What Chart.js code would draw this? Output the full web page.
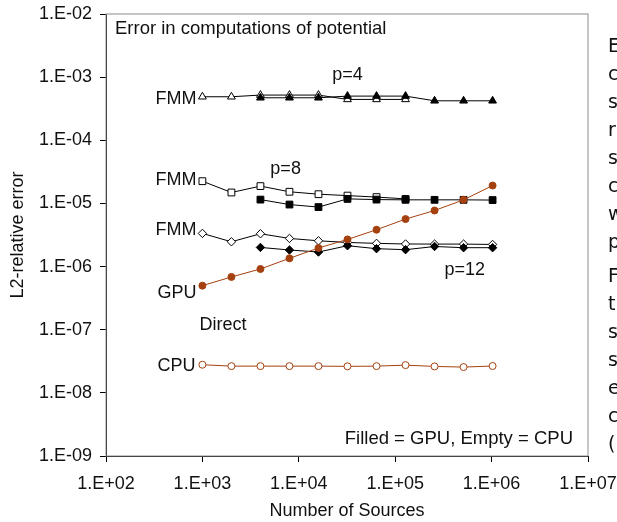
<!DOCTYPE html>
<html>
<head>
<meta charset="utf-8">
<script src="https://cdn.jsdelivr.net/npm/chart.js@4.4.0/dist/chart.umd.min.js"></script>
<style>
  html, body { margin: 0; padding: 0; background: #fff; overflow: hidden; }
  #wrap { position: relative; width: 617px; height: 522px; }
  #side {
    position: absolute; left: 608px; top: 31px; width: 60px;
    font-family: "DejaVu Sans", sans-serif; font-size: 19px; line-height: 28px; color: #111;
    white-space: nowrap;
  }
  #side p { margin: 0 0 6px 0; }
</style>
</head>
<body>
<div id="wrap">
  <canvas id="chart" width="617" height="522"></canvas>
  <div id="side">
    <p>E<br>c<br>s<br>r<br>s<br>c<br>w<br>p</p>
    <p>F<br>t<br>s<br>s<br>e<br>c<br>(</p>
  </div>
</div>
<script>
/*
 * Values
 */
const sources = [1e3, 2e3, 4e3, 8e3, 1.6e4, 3.2e4, 6.4e4, 1.28e5, 2.56e5, 5.12e5, 1.024e6]

const directGpu = [4.99e-7, 6.85e-7, 9.16e-7, 1.35e-6, 1.97e-6, 2.69e-6, 3.83e-6, 5.65e-6, 7.73e-6, 1.14e-5, 1.92e-5]
const directCpu = [2.79e-8, 2.65e-8, 2.65e-8, 2.65e-8, 2.65e-8, 2.63e-8, 2.65e-8, 2.75e-8, 2.62e-8, 2.56e-8, 2.66e-8]

// FMM, CPU runs start at 1e3, GPU runs start at 4e3
const fmmP4Cpu = [4.89e-4, 4.89e-4, 5.20e-4, 5.20e-4, 5.20e-4, 4.44e-4, 4.44e-4, 4.44e-4]
const fmmP4Gpu = [4.71e-4, 4.71e-4, 4.71e-4, 5.01e-4, 5.01e-4, 5.01e-4, 4.22e-4, 4.22e-4, 4.22e-4]
const fmmP8Cpu = [2.25e-5, 1.49e-5, 1.88e-5, 1.53e-5, 1.40e-5, 1.33e-5, 1.26e-5, 1.18e-5]
const fmmP8Gpu = [1.15e-5, 9.6e-6, 8.75e-6, 1.18e-5, 1.15e-5, 1.14e-5, 1.14e-5, 1.14e-5, 1.13e-5]
const fmmP12Cpu = [3.35e-6, 2.47e-6, 3.31e-6, 2.79e-6, 2.56e-6, 2.41e-6, 2.33e-6, 2.28e-6, 2.27e-6, 2.27e-6, 2.24e-6]
const fmmP12Gpu = [2.01e-6, 1.83e-6, 1.70e-6, 2.14e-6, 1.92e-6, 1.85e-6, 2.08e-6, 1.99e-6, 1.99e-6]

const xTicks = [1e2, 1e3, 1e4, 1e5, 1e6, 1e7]
const xTickLabels = ['1.E+02', '1.E+03', '1.E+04', '1.E+05', '1.E+06', '1.E+07']
const yTicks = [1e-9, 1e-8, 1e-7, 1e-6, 1e-5, 1e-4, 1e-3, 1e-2]
const yTickLabels = ['1.E-09', '1.E-08', '1.E-07', '1.E-06', '1.E-05', '1.E-04', '1.E-03', '1.E-02']

const ORANGE = '#a5410f'
const FONT = '"Liberation Sans", Arial, sans-serif'

const pts = (vals, start) => vals.map((v, i) => ({x: sources[start + i], y: v}))

const series = (data, style, color, filled, radius) => ({
	data: data,
	showLine: true,
	borderColor: color,
	borderWidth: 1,
	pointStyle: style,
	pointRadius: radius,
	pointBorderColor: color,
	pointBackgroundColor: filled ? color : '#fff',
	pointBorderWidth: 1
})

// text labels inside the plot, anchored in data space
const notes = [
	{text: 'FMM', x: 1e3, y: fmmP4Cpu[0], align: 'right', dx: -6, dy: 2},
	{text: 'FMM', x: 1e3, y: fmmP8Cpu[0], align: 'right', dx: -6, dy: -1},
	{text: 'FMM', x: 1e3, y: fmmP12Cpu[0], align: 'right', dx: -6, dy: -3},
	{text: 'GPU', x: 1e3, y: directGpu[0], align: 'right', dx: -6, dy: 7},
	{text: 'CPU', x: 1e3, y: directCpu[0], align: 'right', dx: -7, dy: 1},
	{text: 'Direct', x: 1e3, y: 1.2e-7, align: 'left', dx: -3, dy: 0},
	{text: 'p=4', x: 3.2e4, y: 1e-3, align: 'center', dx: 0, dy: -2},
	{text: 'p=8', x: 7.3e3, y: 3.4e-5, align: 'center', dx: 0, dy: -1},
	{text: 'p=12', x: 5.26e5, y: 8.9e-7, align: 'center', dx: 0, dy: 0}
]

const notesPlugin = {
	id: 'notes',
	beforeDatasetsDraw(chart) {
		const {ctx, chartArea: a} = chart
		ctx.save()
		ctx.strokeStyle = '#8c8c8c'
		ctx.lineWidth = 1
		ctx.strokeRect(a.left, a.top, a.right - a.left, a.bottom - a.top)
		ctx.restore()
	},
	afterDatasetsDraw(chart) {
		const {ctx, chartArea: a, scales} = chart
		ctx.save()
		ctx.fillStyle = '#111'
		ctx.font = '18px ' + FONT
		ctx.textBaseline = 'middle'
		notes.forEach(n => {
			ctx.textAlign = n.align
			ctx.fillText(n.text, scales.x.getPixelForValue(n.x) + n.dx, scales.y.getPixelForValue(n.y) + n.dy)
		})
		ctx.font = '18.5px ' + FONT
		ctx.textAlign = 'left'
		ctx.fillText('Error in computations of potential', a.left + 9, a.top + 15)
		ctx.textAlign = 'right'
		ctx.fillText('Filled = GPU, Empty = CPU', a.right - 15, a.bottom - 17)
		ctx.restore()
	}
}

const ctx = document.getElementById('chart').getContext('2d')

const errorChart = new Chart(ctx, {
	type: 'scatter',
	data: {
		datasets: [
			series(pts(directGpu, 0), 'circle', ORANGE, true, 3.5),
			series(pts(directCpu, 0), 'circle', ORANGE, false, 3.5),
			series(pts(fmmP4Gpu, 2), 'triangle', '#000', true, 4.5),
			series(pts(fmmP4Cpu, 0), 'triangle', '#000', false, 4.5),
			series(pts(fmmP8Gpu, 2), 'rect', '#000', true, 4.8),
			series(pts(fmmP8Cpu, 0), 'rect', '#000', false, 4.8),
			series(pts(fmmP12Gpu, 2), 'rectRot', '#000', true, 4.2),
			series(pts(fmmP12Cpu, 0), 'rectRot', '#000', false, 4.2)
		]
	},
	options: {
		responsive: false,
		animation: false,
		layout: {
			padding: {top: 14, right: 29, left: 0, bottom: 0}
		},
		plugins: {
			legend: {display: false},
			tooltip: {enabled: false}
		},
		scales: {
			x: {
				type: 'logarithmic',
				min: 1e2,
				max: 1e7,
				afterFit: s => { s.height = 66; s.paddingLeft = 0; s.paddingRight = 0 },
				afterBuildTicks: s => { s.ticks = xTicks.map(v => ({value: v})) },
				grid: {drawOnChartArea: false, drawTicks: true, tickLength: 6, color: '#000'},
				border: {display: true, color: '#000', width: 1},
				ticks: {
					color: '#111',
					font: {family: FONT, size: 18},
					padding: 11,
					maxRotation: 0,
					autoSkip: false,
					callback: (v, i) => xTickLabels[i]
				},
				title: {
					display: true,
					text: 'Number of Sources',
					color: '#111',
					font: {family: FONT, size: 18},
					padding: {top: 0, bottom: 0}
				}
			},
			y: {
				type: 'logarithmic',
				min: 1e-9,
				max: 1e-2,
				afterFit: s => { s.width = 106; s.paddingTop = 0; s.paddingBottom = 0 },
				afterBuildTicks: s => { s.ticks = yTicks.map(v => ({value: v})) },
				grid: {drawOnChartArea: false, drawTicks: true, tickLength: 6, color: '#000'},
				border: {display: true, color: '#000', width: 1},
				ticks: {
					color: '#111',
					font: {family: FONT, size: 18},
					padding: 8,
					autoSkip: false,
					callback: (v, i) => yTickLabels[i]
				},
				title: {
					display: true,
					text: 'L2-relative error',
					color: '#111',
					font: {family: FONT, size: 18},
					padding: {top: 7, bottom: 0}
				}
			}
		}
	},
	plugins: [notesPlugin]
})
</script>
</body>
</html>
